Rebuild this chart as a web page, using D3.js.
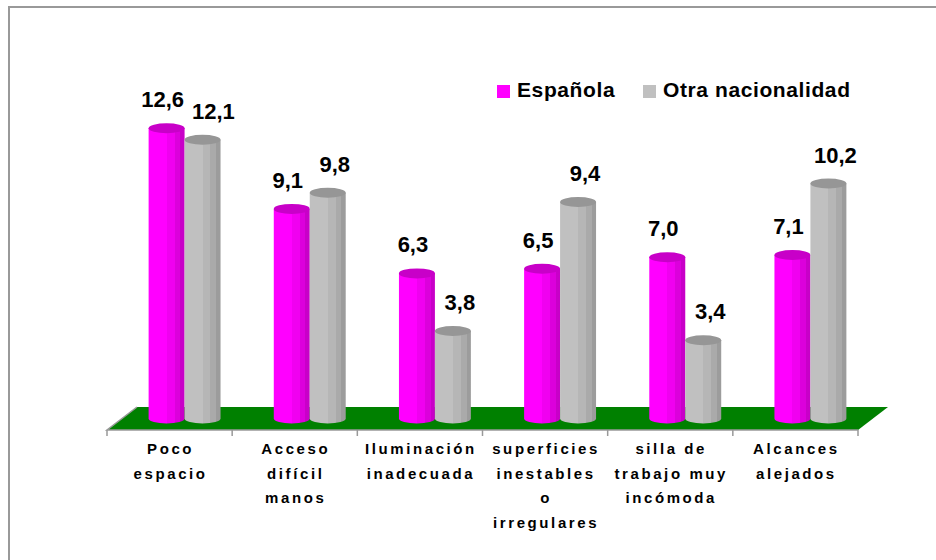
<!DOCTYPE html>
<html>
<head>
<meta charset="utf-8">
<script src="https://cdn.jsdelivr.net/npm/d3@7"></script>
<style>
  body { margin: 0; background: #fff; }
  svg { display: block; font-family: "Liberation Sans", Arial, sans-serif; }
</style>
</head>
<body>
<div class="chart"></div>
<script>
const width = 936;
const height = 560;

// data
const categories = [
    ["Poco", "espacio"],
    ["Acceso", "difícil", "manos"],
    ["Iluminación", "inadecuada"],
    ["superficies", "inestables", "o", "irregulares"],
    ["silla de", "trabajo muy", "incómoda"],
    ["Alcances", "alejados"],
];
const seriesNames = ["Española", "Otra nacionalidad"];
const espanola = [12.6, 9.1, 6.3, 6.5, 7.0, 7.1];
const otra = [12.1, 9.8, 3.8, 9.4, 3.4, 10.2];

const seriesValues = [espanola, otra];
const fmt = (v) => v.toFixed(1).replace(".", ",");

// floor geometry (front edge, depth shift)
const floorFront = 430;
const depthX = 30, depthY = 23;
const barDx = depthX / 2, barDy = depthY / 2;
const ry = 5;

const svg = d3
    .select(".chart")
    .append("svg")
    .attr("width", width)
    .attr("height", height);

// outer frame
svg.append("rect")
    .attr("x", 9).attr("y", 7)
    .attr("width", 1000).attr("height", 1000)
    .attr("fill", "none")
    .attr("stroke", "#999")
    .attr("stroke-width", 2);

const x = d3.scaleBand()
    .domain(d3.range(categories.length))
    .range([107, 858]);

const xs = d3.scaleBand()
    .domain(d3.range(seriesNames.length))
    .range([0, x.bandwidth()])
    .paddingOuter(0.74);

const y = d3.scaleLinear()
    .domain([0, 14])
    .range([floorFront - barDy, 96]);

// gradients for the cylinders
const defs = svg.append("defs");
const stripes = [
    ["#ff00ff", "#f000f0", "#dc00dc", "#c800c8"],
    ["#c0c0c0", "#b6b6b6", "#aaaaaa", "#9c9c9c"],
];
const stripeStops = [0, 0.5, 0.72, 0.88, 1];
stripes.forEach((cols, i) => {
    const g = defs.append("linearGradient")
        .attr("id", "cyl" + i)
        .attr("x1", 0).attr("x2", 1).attr("y1", 0).attr("y2", 0);
    cols.forEach((c, j) => {
        g.append("stop").attr("offset", stripeStops[j]).attr("stop-color", c);
        g.append("stop").attr("offset", stripeStops[j + 1]).attr("stop-color", c);
    });
});
const topColors = ["#c800c8", "#969696"];
const legendColors = ["#ff00ff", "#c0c0c0"];

// floor
const x0 = x.range()[0], x1 = x.range()[1];
svg.append("path")
    .attr("d", `M${x0},${floorFront} L${x1},${floorFront} L${x1 + depthX},${floorFront - depthY} L${x0 + depthX},${floorFront - depthY} Z`)
    .attr("fill", "#008000");
svg.append("path")
    .attr("d", `M${x0 + depthX},${floorFront - depthY} L${x0},${floorFront} L${x1},${floorFront}`)
    .attr("fill", "none")
    .attr("stroke", "#999")
    .attr("stroke-width", 1.5);

// category ticks
svg.selectAll(".tick")
    .data(d3.range(categories.length + 1))
    .enter()
    .append("line")
    .attr("x1", (i) => x0 + i * x.step())
    .attr("x2", (i) => x0 + i * x.step())
    .attr("y1", floorFront)
    .attr("y2", floorFront + 6)
    .attr("stroke", "#999")
    .attr("stroke-width", 1.5);

// bars
const bars = [];
categories.forEach((c, ci) => {
    seriesNames.forEach((s, si) => {
        bars.push({ ci, si, v: seriesValues[si][ci] });
    });
});

const g = svg.append("g");
bars.forEach((d) => {
    const left = x(d.ci) + xs(d.si) + barDx;
    const right = left + xs.bandwidth();
    const cx = (left + right) / 2;
    const r = xs.bandwidth() / 2;
    const top = y(d.v);
    const base = y(0);
    g.append("path")
        .attr("d", `M${left},${top} L${left},${base} A${r},${ry} 0 0 0 ${right},${base} L${right},${top} Z`)
        .attr("fill", `url(#cyl${d.si})`);
    g.append("ellipse")
        .attr("cx", cx).attr("cy", top)
        .attr("rx", r).attr("ry", ry)
        .attr("fill", topColors[d.si]);
    d.cx = cx;
    d.top = top;
});

// value labels
const labelShift = [-4, 7];
const labels = svg.append("g")
    .attr("font-size", 22)
    .attr("font-weight", "bold")
    .attr("text-anchor", "middle")
    .attr("fill", "#000");
categories.forEach((c, ci) => {
    const pair = bars.filter((b) => b.ci === ci);
    const boxes = [];
    pair.forEach((b, k) => {
        const t = labels.append("text")
            .attr("x", b.cx + labelShift[b.si])
            .attr("y", b.top - 21)
            .text(fmt(b.v));
        let bb = t.node().getBBox();
        if (k > 0) {
            const prev = boxes[k - 1];
            if (Math.abs(prev.y - bb.y) < 22 && bb.x < prev.x + prev.width + 8) {
                const shift = prev.x + prev.width + 8 - bb.x;
                t.attr("x", +t.attr("x") + shift);
                bb = t.node().getBBox();
            }
        }
        boxes.push(bb);
    });
});

// category labels
const catG = svg.append("g")
    .attr("font-size", 15)
    .attr("font-weight", "bold")
    .attr("text-anchor", "middle")
    .attr("letter-spacing", "2.6px");
categories.forEach((lines, ci) => {
    const cx = x(ci) + x.bandwidth() / 2 + 1;
    const t = catG.append("text")
        .attr("x", cx)
        .attr("y", 454);
    lines.forEach((ln, li) => {
        t.append("tspan")
            .attr("x", cx)
            .attr("dy", li === 0 ? 0 : 24.5)
            .text(ln);
    });
});

// legend
const legend = svg.append("g")
    .attr("font-size", 21)
    .attr("font-weight", "bold")
    .attr("letter-spacing", "0.6px");
const legendX = [497, 643];
seriesNames.forEach((s, i) => {
    legend.append("rect")
        .attr("x", legendX[i]).attr("y", 85)
        .attr("width", 13).attr("height", 13)
        .attr("fill", legendColors[i]);
    legend.append("text")
        .attr("x", legendX[i] + 20)
        .attr("y", 97)
        .text(s);
});
</script>
</body>
</html>
